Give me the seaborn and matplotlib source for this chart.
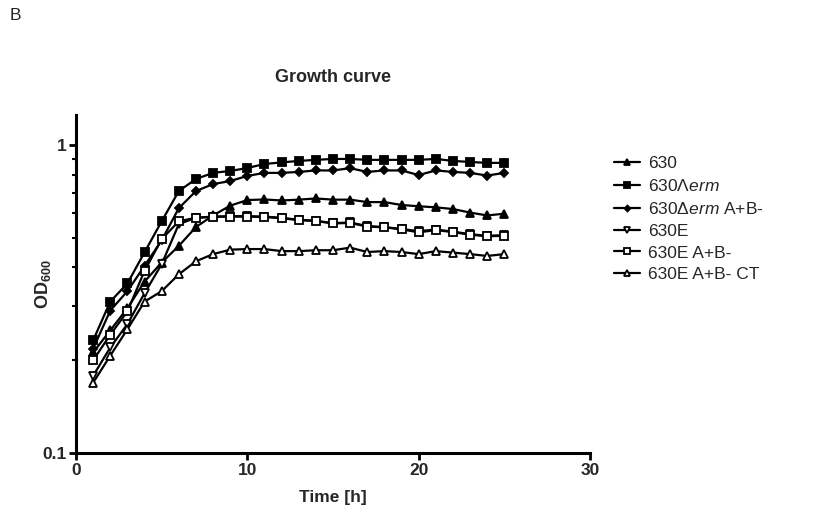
import matplotlib
matplotlib.use("Agg")
import matplotlib.pyplot as plt
import seaborn as sns
import numpy as np
import pandas as pd
from matplotlib.ticker import FixedLocator, NullFormatter, FixedFormatter

sns.set_theme(style="ticks")
plt.rcParams['font.family'] = ['Liberation Sans', 'DejaVu Sans']
plt.rcParams['mathtext.fontset'] = 'custom'
plt.rcParams['mathtext.rm'] = 'Liberation Sans'
plt.rcParams['mathtext.it'] = 'Liberation Sans:italic'
plt.rcParams['mathtext.bf'] = 'Liberation Sans:bold'

time_h = list(range(1, 26))

od_630 = [0.212, 0.250, 0.295, 0.360, 0.415, 0.470, 0.541, 0.590, 0.635, 0.662,
          0.665, 0.660, 0.664, 0.670, 0.664, 0.664, 0.652, 0.652, 0.638, 0.632,
          0.627, 0.619, 0.603, 0.590, 0.598]
od_630_erm = [0.232, 0.310, 0.355, 0.448, 0.565, 0.708, 0.775, 0.811, 0.823, 0.841,
              0.867, 0.877, 0.887, 0.894, 0.900, 0.900, 0.894, 0.894, 0.894, 0.894,
              0.900, 0.887, 0.880, 0.874, 0.874]
od_630_erm_ab = [0.218, 0.290, 0.335, 0.405, 0.490, 0.623, 0.708, 0.746, 0.763, 0.793,
                 0.811, 0.811, 0.817, 0.826, 0.826, 0.840, 0.817, 0.826, 0.826, 0.798,
                 0.826, 0.817, 0.811, 0.795, 0.811]
od_630e = [0.178, 0.220, 0.262, 0.330, 0.410, 0.553, 0.580, 0.585, 0.587, 0.587,
           0.585, 0.580, 0.571, 0.567, 0.557, 0.560, 0.545, 0.541, 0.533, 0.525,
           0.531, 0.523, 0.513, 0.507, 0.509]
od_630e_ab = [0.200, 0.242, 0.288, 0.390, 0.494, 0.565, 0.580, 0.584, 0.585, 0.585,
              0.583, 0.578, 0.570, 0.566, 0.556, 0.558, 0.543, 0.540, 0.532, 0.520,
              0.529, 0.521, 0.511, 0.505, 0.507]
od_630e_ab_ct = [0.169, 0.207, 0.252, 0.310, 0.335, 0.380, 0.419, 0.442, 0.457, 0.459,
                 0.459, 0.452, 0.452, 0.455, 0.455, 0.464, 0.449, 0.452, 0.449, 0.442,
                 0.452, 0.447, 0.442, 0.436, 0.442]

labels = ["630", "630\u039b$\\mathit{erm}$", "630\u0394$\\mathit{erm}$ A+B-",
          "630E", "630E A+B-", "630E A+B- CT"]
series = [od_630, od_630_erm, od_630_erm_ab, od_630e, od_630e_ab, od_630e_ab_ct]
markers = ["^", "s", "D", "v", "s", "^"]
faces = ["black", "black", "black", "white", "white", "white"]
msizes = [5.8, 5.5, 4.0, 5.8, 5.5, 5.8]

fig = plt.figure(figsize=(8.14, 5.12), dpi=100)
ax = fig.add_axes([76/814, 59/512, 514/814, 338/512])

for lab, vals, m, fc, ms in zip(labels, series, markers, faces, msizes):
    sns.lineplot(x=time_h, y=vals, ax=ax, color="black", marker=m,
                 markerfacecolor=fc, markeredgecolor="black", markeredgewidth=1.3,
                 markersize=ms, linewidth=1.6, label=lab)

ax.set_yscale("log")
ax.set_xlim(0, 30)
ax.set_ylim(0.1, 1.25)
ax.set_xticks([0, 10, 20, 30])
ax.yaxis.set_major_locator(FixedLocator([0.1, 1]))
ax.yaxis.set_major_formatter(FixedFormatter(["0.1", "1"]))
ax.yaxis.set_minor_locator(FixedLocator([0.2, 0.3, 0.4, 0.5, 0.6, 0.7, 0.8, 0.9]))
ax.yaxis.set_minor_formatter(NullFormatter())

sns.despine(ax=ax)
for s in ["left", "bottom"]:
    ax.spines[s].set_linewidth(2.2)
    ax.spines[s].set_color("black")
ax.tick_params(axis="both", which="major", length=5, width=2, color="black",
               labelsize=12.5, pad=2)
ax.tick_params(axis="y", which="minor", length=3, width=1.5, color="black")
for t in ax.get_xticklabels() + ax.get_yticklabels():
    t.set_fontweight("bold")

ax.set_xlabel("Time [h]", fontsize=12.5, fontweight="bold", labelpad=9)
ax.set_ylabel("OD$_{\\mathbf{600}}$", fontsize=13, fontweight="bold", labelpad=-8)
ax.set_title("Growth curve", fontsize=13, fontweight="bold", pad=24)

fig.text(10/814, 1 - 15/512, "B", fontsize=12.5, va="center", ha="left")

leg = ax.legend(loc="upper left", bbox_to_anchor=(614/814, 1 - 156/512),
                bbox_transform=fig.transFigure, frameon=False, fontsize=12.5,
                handlelength=1.5, handletextpad=0.45, labelspacing=0.39,
                borderaxespad=0, borderpad=0, markerscale=0.75)

fig.savefig("out.png", dpi=100, facecolor="white")
